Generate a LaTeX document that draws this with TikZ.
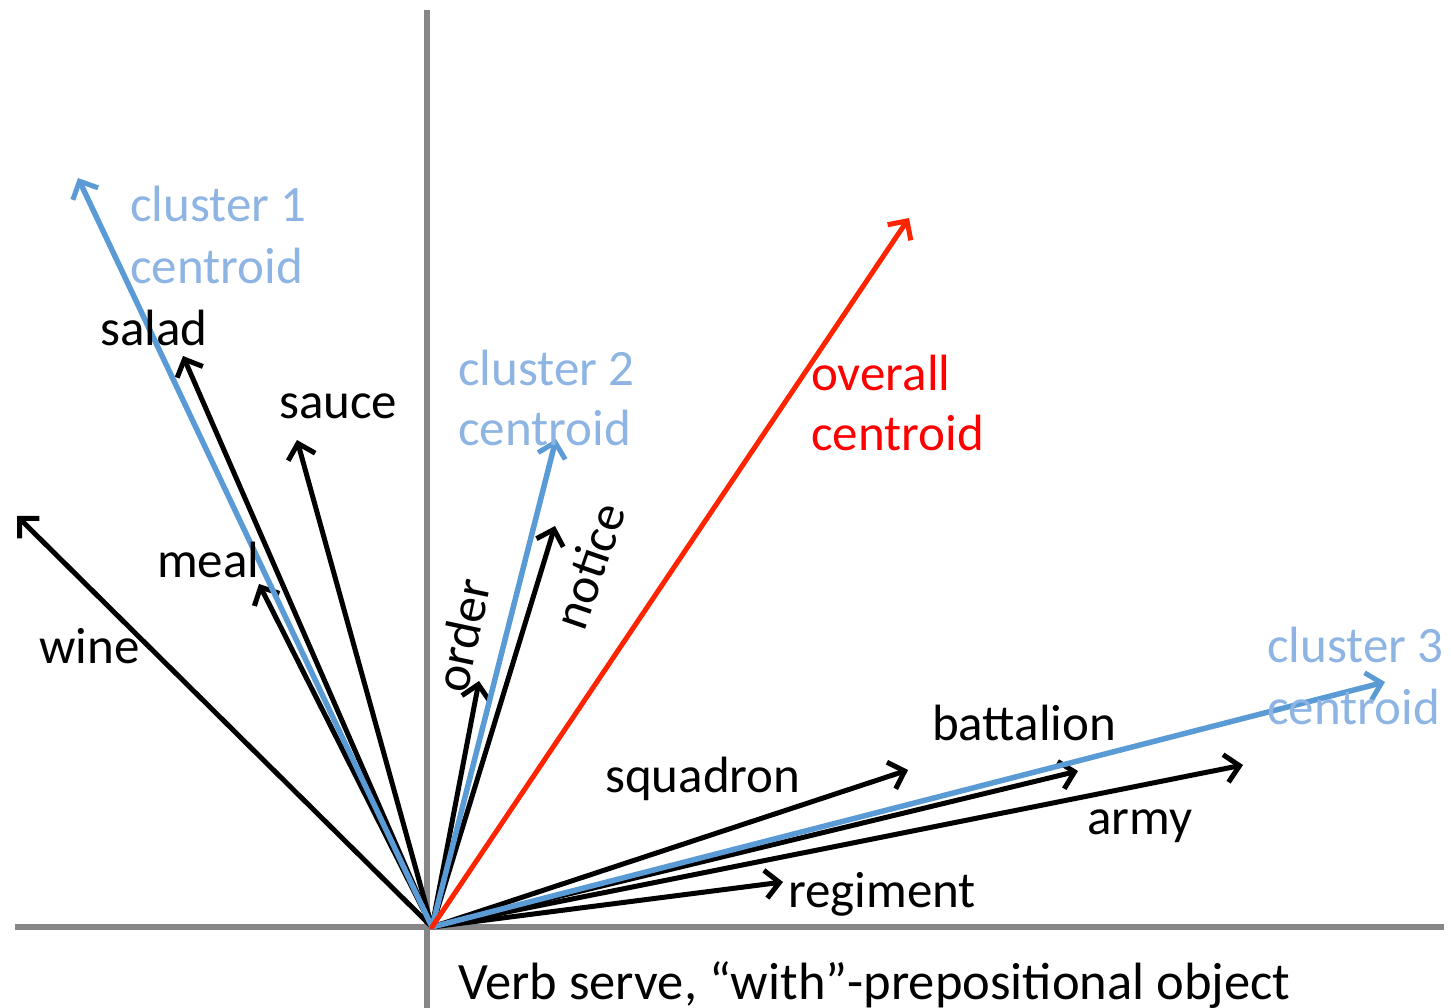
\documentclass[tikz,border=0pt]{standalone}
\usepackage{fontspec}
\setmainfont{Carlito}
\usetikzlibrary{arrows.meta}
\definecolor{axisgray}{RGB}{135,135,135}
\definecolor{clusterline}{RGB}{91,155,213}
\definecolor{clustertext}{RGB}{141,180,226}
\definecolor{overallline}{RGB}{255,36,0}
\definecolor{overalltext}{RGB}{255,0,0}
\begin{document}
\begin{tikzpicture}[x=1pt,y=-1pt,
  lbl/.style={font=\fontsize{51}{61}\selectfont, inner sep=0pt, anchor=base west},
  rlbl/.style={font=\fontsize{51}{61}\selectfont, inner sep=0pt, anchor=center},
  axisline/.style={draw=axisgray, line width=5.5pt},
  vec/.style={line width=5pt, line cap=round,
    -{Straight Barb[length=14pt,width=28pt,line width=5pt]}},
  wordvec/.style={vec, draw=black},
  clustervec/.style={vec, draw=clusterline, line width=5.5pt},
  overallvec/.style={vec, draw=overallline}]
\useasboundingbox (0,0) rectangle (1451,1008);

% axes
\coordinate (xl) at (15,927);
\coordinate (xr) at (1444,927);
\coordinate (yt) at (427,10);
\coordinate (yb) at (427,1008);
\draw[axisline] (xl) -- (xr);
\draw[axisline] (yt) -- (yb);

% common origin of all vectors
\coordinate (O) at (432,927);

% vector end points
\coordinate (wine) at (17,516);
\coordinate (meal) at (259,584);
\coordinate (salad) at (183,356);
\coordinate (sauce) at (297,440);
\coordinate (order) at (479,681);
\coordinate (notice) at (555,526);
\coordinate (squadron) at (908,770);
\coordinate (battalion) at (1078,771);
\coordinate (army) at (1243,765);
\coordinate (regiment) at (783,882);
\coordinate (c1) at (78,178);
\coordinate (c2) at (556,439);
\coordinate (c3) at (1385,682);
\coordinate (ov) at (909,218);

% word vectors
\foreach \w in {wine,meal,salad,sauce,order,notice,squadron,battalion,army,regiment}
  \draw[wordvec] (O) -- (\w);

% cluster centroids
\draw[clustervec] (O) -- (c1);
\draw[clustervec] (O) -- (c2);
\draw[clustervec] (O) -- (c3);

% overall centroid
\draw[overallvec] (O) -- (ov);

% word labels
\node[lbl] (lwine) at (39,663) {wine};
\node[lbl] (lmeal) at (157,577) {meal};
\node[lbl] (lsalad) at (100,345) {salad};
\node[lbl] (lsauce) at (279,418) {sauce};
\node[rlbl, rotate=78] (lorder) at (462,635) {order};
\node[rlbl, rotate=71] (lnotice) at (589,566) {notice};
\node[lbl] (lsquadron) at (605,792) {squadron};
\node[lbl] (lbattalion) at (932,740) {battalion};
\node[lbl] (larmy) at (1087,834) {army};
\node[lbl] (lregiment) at (788,907) {regiment};

% centroid labels
\node[lbl, text=clustertext] (lc1a) at (130,222) {cluster 1};
\node[lbl, text=clustertext] (lc1b) at (130,284) {centroid};
\node[lbl, text=clustertext] (lc2a) at (458,385) {cluster 2};
\node[lbl, text=clustertext] (lc2b) at (458,445) {centroid};
\node[lbl, text=clustertext] (lc3a) at (1267,662) {cluster 3};
\node[lbl, text=clustertext] (lc3b) at (1267,724) {centroid};
\node[lbl, text=overalltext] (lova) at (811,390) {overall};
\node[lbl, text=overalltext] (lovb) at (811,450) {centroid};

% caption
\node[lbl, font=\fontsize{52.5}{62}\selectfont] (caption) at (458,999) {Verb serve, “with”-prepositional object};
\end{tikzpicture}
\end{document}
